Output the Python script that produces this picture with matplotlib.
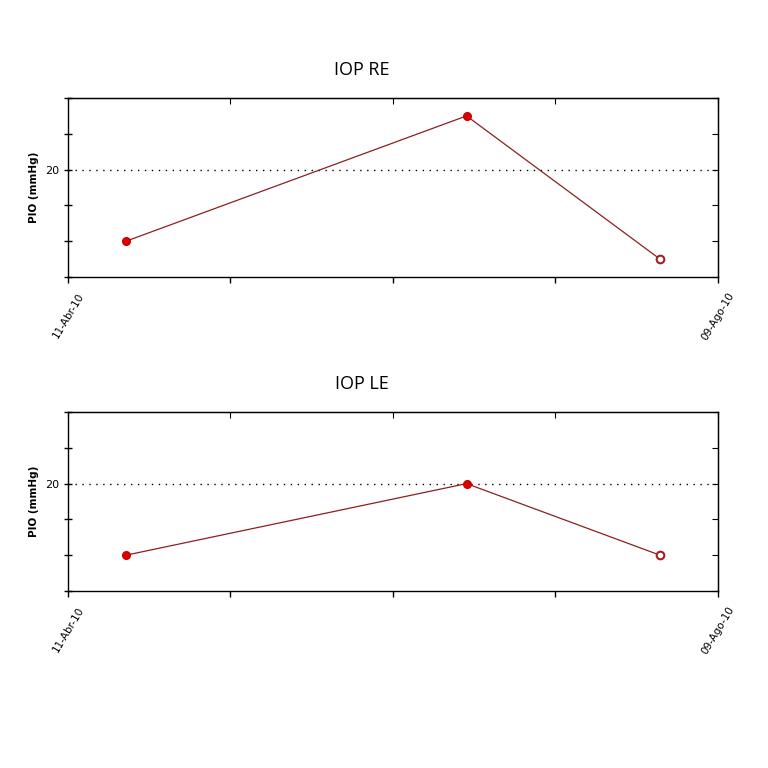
import matplotlib
matplotlib.use("Agg")
import matplotlib.pyplot as plt
import matplotlib.dates as mdates
import numpy as np
import datetime as dt

dates = [dt.datetime(2010, 4, 21, 17), dt.datetime(2010, 6, 23, 14), dt.datetime(2010, 7, 29, 7)]
re_values = [16, 23, 15]
le_values = [16, 20, 16]
titles = ["IOP RE", "IOP LE"]
x_start = dt.date(2010, 4, 11)
x_end = dt.date(2010, 8, 9)
x_labels = ["11-Abr-10", "09-Ago-10"]
y_min, y_max = 14, 24
ref_line = 20

fig = plt.figure(figsize=(7.68, 7.68), dpi=100)
plt.rcParams['font.family'] = ['DejaVu Sans']

axes_specs = [
    (0.0885, 0.6393, 0.8464, 0.2331, 0.909),
    (0.0885, 0.2305, 0.8464, 0.2330, 0.500),
]
series = [re_values, le_values]

for (l, b, w, h, ty), vals, title in zip(axes_specs, series, titles):
    ax = fig.add_axes([l, b, w, h])
    xd = mdates.date2num(dates)
    ax.plot(xd, vals, color="#8b2020", lw=0.9, zorder=2)
    ax.plot(xd[:-1], vals[:-1], 'o', ms=5.5, color="#dd0000", mec="#cc0000", zorder=3)
    ax.plot(xd[-1:], vals[-1:], 'o', ms=5.5, mfc="white", mec="#a02020", mew=1.5, zorder=3)
    ax.axhline(ref_line, color="black", ls=(0, (1, 4)), lw=1.0, zorder=1)
    x0 = mdates.date2num(x_start)
    x1 = mdates.date2num(x_end)
    ax.set_xlim(x0, x1)
    ax.set_ylim(y_min, y_max)
    xt = np.linspace(x0, x1, 5)
    ax.set_xticks(xt)
    ax.set_xticklabels([x_labels[0], "", "", "", x_labels[1]], rotation=59,
                       ha="center", va="center", rotation_mode="anchor", fontsize=7.5)
    ax.set_yticks(np.arange(y_min, y_max + 1, 2))
    ax.set_yticklabels(["" if v != ref_line else str(v) for v in np.arange(y_min, y_max + 1, 2)],
                       fontsize=8)
    ax.tick_params(axis="x", direction="out", length=4, width=1, pad=24)
    ax.tick_params(axis="y", direction="inout", length=6, width=1)
    for s in ax.spines.values():
        s.set_linewidth(1.0)
    sec = ax.secondary_xaxis('top')
    sec.set_xticks(xt)
    sec.set_xticklabels([])
    sec.tick_params(direction="in", length=4)
    ax.tick_params(axis="x", top=False)
    secy = ax.secondary_yaxis('right')
    secy.set_yticks(np.arange(y_min, y_max + 1, 2))
    secy.set_yticklabels([])
    secy.tick_params(direction="in", length=4)
    ax.tick_params(axis="y", right=False)
    ax.set_ylabel("PIO (mmHg)", fontsize=7.5, fontweight="bold", labelpad=4)
    fig.text(0.471, ty, title, ha="center", va="center", fontsize=13,
             family="Open Sans")

fig.savefig("out.png", dpi=100)
